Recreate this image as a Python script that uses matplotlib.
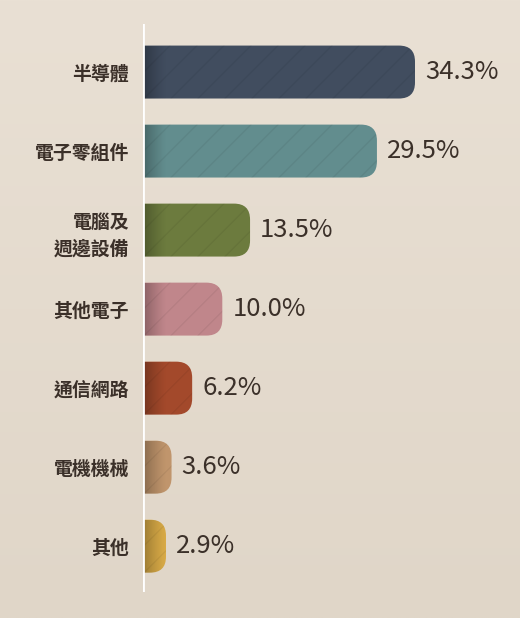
import matplotlib
matplotlib.use("Agg")
import matplotlib.pyplot as plt
import numpy as np
from matplotlib.patches import FancyBboxPatch
from matplotlib.colors import to_rgb

plt.rcParams['font.family'] = ['Noto Sans CJK TC', 'DejaVu Sans']

categories = ["半導體", "電子零組件", "電腦及\n週邊設備", "其他電子", "通信網路", "電機機械", "其他"]
values = [34.3, 29.5, 13.5, 10.0, 6.2, 3.6, 2.9]
value_labels = ["34.3%", "29.5%", "13.5%", "10.0%", "6.2%", "3.6%", "2.9%"]
colors = ["#414d5f", "#628d8e", "#6c7b3e", "#c0868b", "#a3492b", "#c0956c", "#d9ab47"]

W, H, DPI = 520, 618, 100
text_color = "#3b3029"

fig = plt.figure(figsize=(W / DPI, H / DPI), dpi=DPI)

# background gradient
bg = fig.add_axes([0, 0, 1, 1], zorder=-1)
top = np.array(to_rgb("#e9e0d4"))
bot = np.array(to_rgb("#e0d6c8"))
t = np.linspace(0, 1, 256)[:, None, None]
grad = top * (1 - t) + bot * t
bg.imshow(np.repeat(grad, 4, axis=1), aspect="auto", extent=(0, 1, 0, 1))
bg.axis("off")

ax_left, ax_right, ax_top, ax_bot = 143, 520, 24, 592
ax = fig.add_axes([ax_left / W, 1 - ax_bot / H, (ax_right - ax_left) / W, (ax_bot - ax_top) / H])
ax.set_facecolor("none")

px_per_x = 7.93
xmax = (ax_right - ax_left) / px_per_x
n = len(values)
ylo, yhi = 6.58, -0.608
ax.set_xlim(0, xmax)
ax.set_ylim(ylo, yhi)
px_per_y = (ax_bot - ax_top) / (ylo - yhi)

bar_h = 0.67
radius_px = 16
rx = radius_px / px_per_x
ry = radius_px / px_per_y

for i, (v, c) in enumerate(zip(values, colors)):
    y0 = i - bar_h / 2
    patch = FancyBboxPatch((-2 * rx, y0), v + 2 * rx, bar_h,
                           boxstyle=f"round,pad=0,rounding_size={rx}",
                           mutation_aspect=ry / rx,
                           facecolor=c, edgecolor="none", zorder=2)
    ax.add_patch(patch)

    # darker left edge
    gw = 24 / px_per_x
    a = np.linspace(0.38, 0.0, 64) ** 1.3
    img = np.zeros((1, 64, 4))
    img[..., 3] = a
    im = ax.imshow(img, extent=(0, gw, i + bar_h / 2, y0), aspect="auto",
                   zorder=3, interpolation="bilinear")
    im.set_clip_path(patch)

    # faint diagonal stripes
    dx = (bar_h * px_per_y) / px_per_x
    step = 27 / px_per_x
    xs = np.arange(-dx, v + step, step)
    for xs0 in xs:
        ln, = ax.plot([xs0, xs0 + dx], [i + bar_h / 2, y0], color="black",
                      alpha=0.06, lw=0.9, zorder=4)
        ln.set_clip_path(patch)

    ax.text(v + 10 / px_per_x, i, value_labels[i], va="center", ha="left",
            fontsize=18.5, color=text_color, zorder=5)

ax.axvline(0, color="white", lw=2, zorder=6)

ax.set_yticks(range(n))
ax.set_yticklabels(categories, fontsize=13.6, fontweight="bold", color=text_color,
                   linespacing=1.5)
ax.tick_params(axis="y", length=0, pad=10)
ax.set_xticks([])
for s in ax.spines.values():
    s.set_visible(False)

fig.savefig("out.png", dpi=DPI)
